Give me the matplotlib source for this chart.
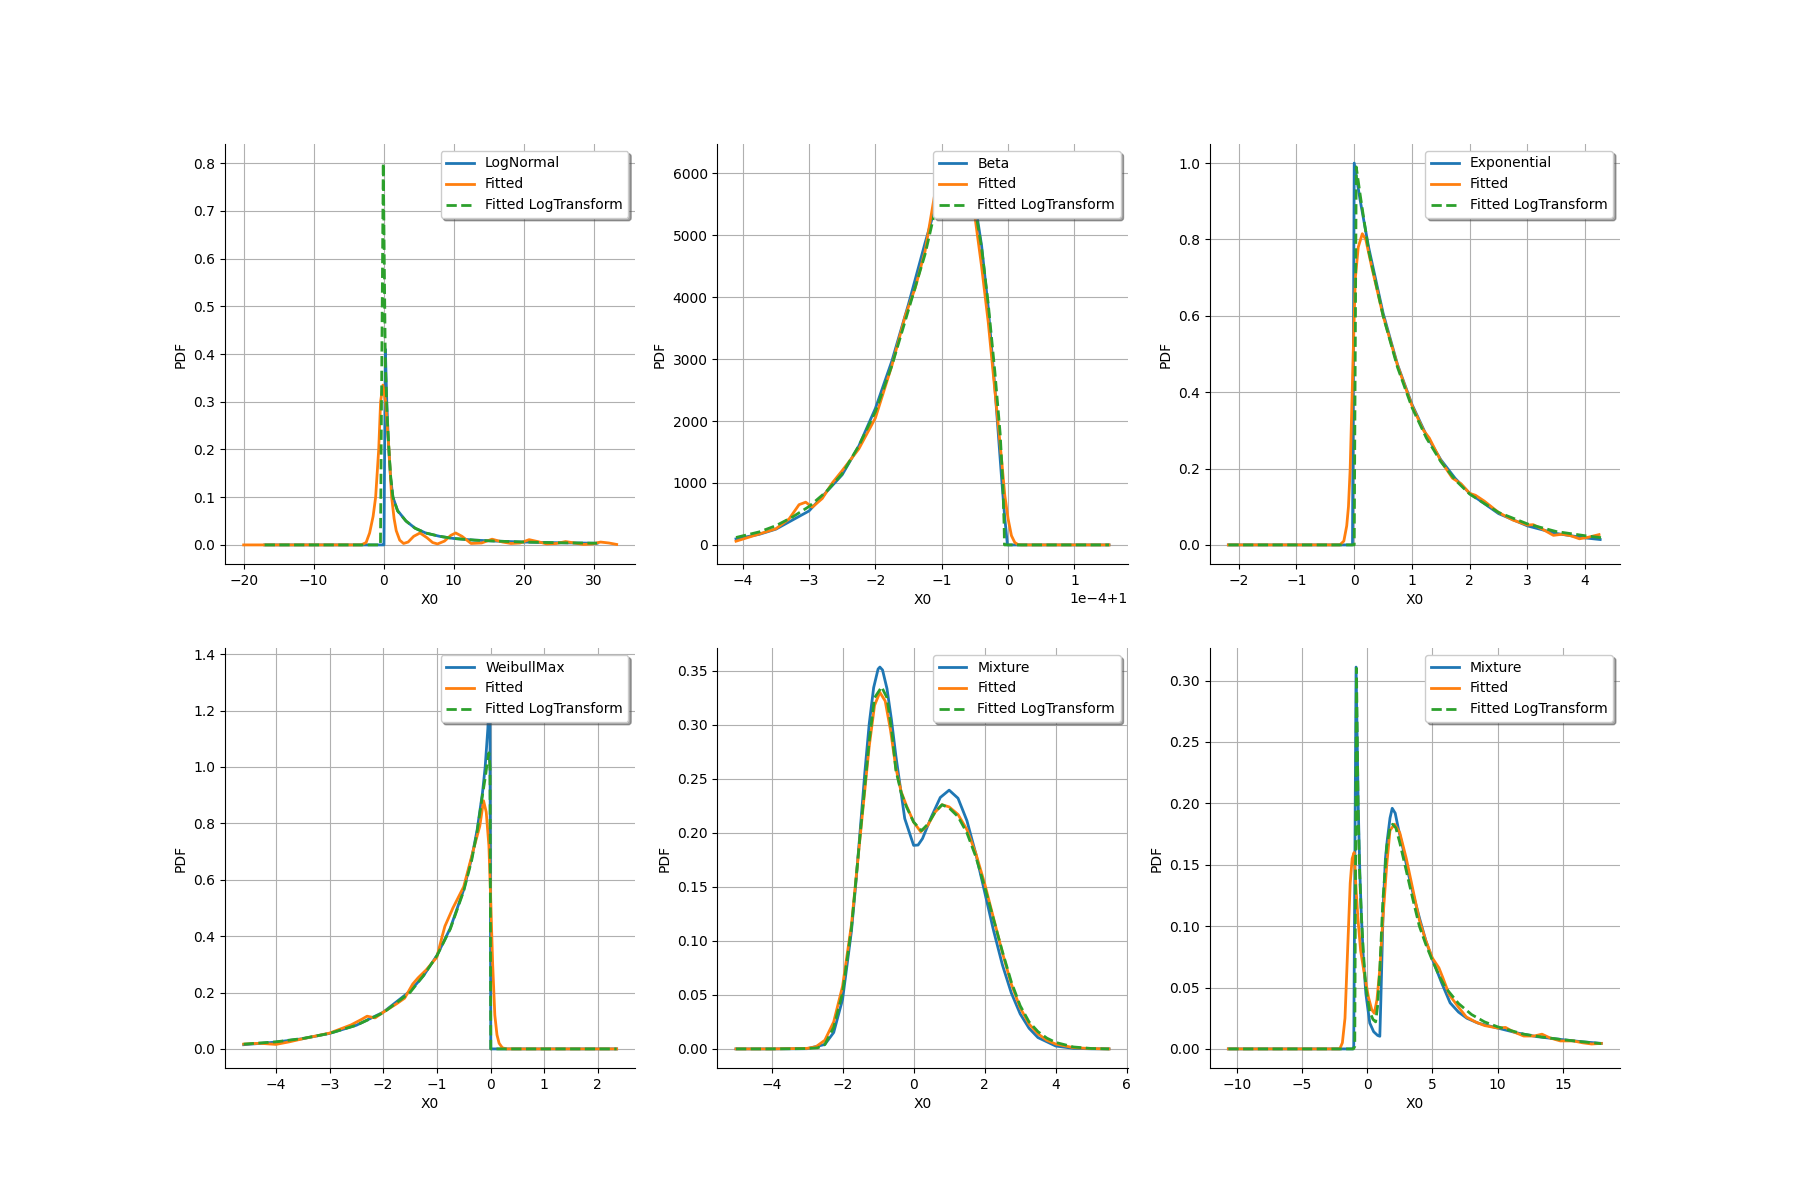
import matplotlib
matplotlib.use("Agg")
import matplotlib.pyplot as plt
import numpy as np

labels = ["Fitted", "Fitted LogTransform"]

# LogNormal
ln_true_x = [-17, -0.05, 0.05, 0.25, 0.45, 0.7, 1.0, 1.33, 2.0, 3.2, 4.5, 6, 8, 10, 13, 16, 20, 25, 30.5]
ln_true_y = [0, 0, 0, 0.41, 0.30, 0.21, 0.14, 0.10, 0.072, 0.05, 0.035, 0.025, 0.018, 0.0135, 0.01, 0.008, 0.006, 0.0045, 0.0035]
ln_fit_x = [-20, -3.2, -2.5, -2.0, -1.5, -1.14, -0.7, -0.43, -0.1, 0.28, 0.76, 1.15, 1.5, 1.8, 2.3, 2.85, 3.5, 4.3, 5.2, 6.2,
            7.0, 7.7, 8.7, 9.6, 10.3, 11.2, 12.5, 14, 15.5, 17, 18.2, 19.5, 20.8, 22, 23.3, 24.7, 26, 27.3, 28.5, 29.8, 31, 32.2, 33.3]
ln_fit_y = [0, 0, 0.005, 0.025, 0.06, 0.10, 0.20, 0.30, 0.335, 0.30, 0.20, 0.10, 0.055, 0.03, 0.01, 0.003, 0.006, 0.018, 0.025, 0.015,
            0.005, 0.002, 0.008, 0.02, 0.025, 0.018, 0.003, 0.004, 0.012, 0.006, 0.003, 0.004, 0.011, 0.007, 0.002, 0.003, 0.007, 0.004, 0.001, 0.002, 0.006, 0.004, 0.001]
ln_log_x = [-17, -0.45, -0.05, 0.25, 0.5, 0.8, 1.0, 1.33, 2, 3.2, 4.5, 6, 8, 10, 13, 16, 20, 25, 30.5]
ln_log_y = [0, 0, 0.80, 0.38, 0.27, 0.19, 0.145, 0.10, 0.071, 0.05, 0.035, 0.025, 0.018, 0.0135, 0.010, 0.008, 0.006, 0.0045, 0.0035]

# Beta (x in units of 1e-4 around 1)
beta_true_u = [-4.1, -3.75, -3.5, -3, -2.5, -2.25, -2, -1.75, -1.5, -1.25, -1.1, -1, -0.9, -0.75, -0.6, -0.5, -0.4, -0.3, -0.2, -0.1, -0.05, -0.01, 1.52]
beta_true_y = [97, 171, 254, 548, 1133, 1596, 2204, 2975, 3892, 4882, 5440, 5758, 6006, 6167, 5957, 5535, 4837, 3838, 2551, 1102, 430, 0, 0]
beta_fit_u = [-4.1, -3.8, -3.5, -3.3, -3.15, -3.05, -2.95, -2.8, -2.65, -2.5, -2.25, -2.0, -1.75, -1.55, -1.4, -1.25, -1.1, -0.95, -0.8, -0.65,
              -0.5, -0.4, -0.3, -0.2, -0.1, -0.05, 0.0, 0.05, 0.1, 0.15, 0.2, 1.52]
beta_fit_y = [60, 160, 260, 420, 650, 690, 610, 750, 1000, 1200, 1550, 2050, 2900, 3700, 4150, 4750, 5700, 6100, 6150, 5900,
              5300, 4500, 3600, 2500, 1400, 800, 420, 150, 40, 5, 0, 0]
beta_log_u = [-4.1, -3.75, -3.5, -3.25, -3.0, -2.75, -2.5, -2.25, -2.0, -1.75, -1.5, -1.25, -1.1, -0.95, -0.8, -0.65, -0.5, -0.4, -0.3, -0.2, -0.12, -0.08, -0.06, -0.055, 1.52]
beta_log_y = [120, 210, 310, 450, 620, 850, 1150, 1600, 2150, 2900, 3800, 4700, 5400, 5950, 6100, 5950, 5450, 4800, 3900, 2800, 1800, 1000, 300, 0, 0]

# Exponential
exp_true_x = [-2.18, -0.03, 0.0, 0.1, 0.25, 0.5, 0.75, 1.0, 1.25, 1.5, 1.75, 2.0, 2.5, 3.0, 3.5, 4.0, 4.26]
exp_true_y = [0, 0, 1.0, 0.905, 0.779, 0.607, 0.472, 0.368, 0.287, 0.223, 0.174, 0.135, 0.082, 0.0498, 0.030, 0.0183, 0.0141]
exp_fit_x = [-2.18, -0.25, -0.18, -0.13, -0.1, -0.07, -0.035, 0.0, 0.02, 0.07, 0.14, 0.2, 0.3, 0.5, 0.75, 1.0, 1.2, 1.3, 1.5, 1.7,
             1.85, 2.0, 2.1, 2.25, 2.5, 2.75, 3.0, 3.1, 3.25, 3.45, 3.6, 3.75, 3.9, 4.05, 4.24]
exp_fit_y = [0, 0, 0.01, 0.05, 0.1, 0.2, 0.4, 0.6, 0.7, 0.78, 0.815, 0.80, 0.73, 0.60, 0.47, 0.365, 0.30, 0.28, 0.22, 0.175,
             0.16, 0.135, 0.13, 0.115, 0.085, 0.065, 0.052, 0.053, 0.042, 0.025, 0.028, 0.024, 0.016, 0.02, 0.027]
exp_log_x = [-2.18, 0.0, 0.035, 0.1, 0.25, 0.5, 0.75, 1.0, 1.25, 1.5, 1.75, 2.0, 2.5, 3.0, 3.5, 4.0, 4.28]
exp_log_y = [0, 0, 0.99, 0.92, 0.77, 0.6, 0.465, 0.36, 0.28, 0.218, 0.17, 0.133, 0.085, 0.055, 0.035, 0.024, 0.019]

# WeibullMax
wm_true_x = [-4.6, -4.0, -3.5, -3.0, -2.5, -2.0, -1.5, -1.25, -1.0, -0.75, -0.5, -0.35, -0.25, -0.15, -0.1, -0.05, -0.03, -0.013, 0.005, 2.35]
wm_true_y = [0.0149, 0.0241, 0.0362, 0.0549, 0.0839, 0.130, 0.2047, 0.2592, 0.331, 0.428, 0.5645, 0.6777, 0.7758, 0.9077, 0.999, 1.135, 1.2245, 1.354, 0.0, 0.0]
wm_fit_x = [-4.6, -4.3, -4.0, -3.75, -3.5, -3.0, -2.6, -2.4, -2.3, -2.15, -2.0, -1.75, -1.6, -1.45, -1.35, -1.2, -1.0, -0.9, -0.85, -0.7,
            -0.5, -0.3, -0.2, -0.13, -0.08, -0.03, 0.0, 0.04, 0.08, 0.12, 0.16, 0.22, 0.3, 2.35]
wm_fit_y = [0.017, 0.02, 0.016, 0.025, 0.036, 0.056, 0.085, 0.105, 0.116, 0.11, 0.13, 0.16, 0.18, 0.23, 0.252, 0.28, 0.325, 0.4, 0.435, 0.5,
            0.575, 0.72, 0.79, 0.88, 0.84, 0.72, 0.55, 0.3, 0.12, 0.05, 0.02, 0.004, 0.0, 0.0]
wm_log_x = [-4.6, -4.0, -3.5, -3.0, -2.5, -2.0, -1.5, -1.25, -1.0, -0.75, -0.5, -0.35, -0.25, -0.15, -0.1, -0.05, -0.03, -0.01, 0.005, 2.35]
wm_log_y = [0.017, 0.025, 0.037, 0.055, 0.084, 0.128, 0.2, 0.26, 0.33, 0.425, 0.56, 0.67, 0.77, 0.9, 0.96, 1.03, 1.05, 1.0, 0.0, 0.0]

# Mixture of normals
mn_true_x = [-5, -4, -3, -2.5, -2.25, -2, -1.75, -1.625, -1.5, -1.375, -1.25, -1.125, -1, -0.95, -0.875, -0.75, -0.625, -0.5, -0.25, 0,
             0.125, 0.25, 0.5, 0.75, 1, 1.25, 1.5, 1.75, 2, 2.25, 2.5, 2.75, 3, 3.25, 3.5, 4, 4.5, 5, 5.5]
mn_true_y = [0, 0, 0.0002, 0.0041, 0.0152, 0.0459, 0.1091, 0.1538, 0.2041, 0.2552, 0.3008, 0.3344, 0.3516, 0.3534, 0.3507, 0.3335, 0.3049, 0.2713, 0.2132, 0.1884,
             0.1887, 0.1947, 0.2148, 0.2327, 0.2395, 0.2320, 0.2113, 0.1807, 0.1452, 0.1096, 0.0777, 0.0518, 0.0324, 0.0191, 0.0105, 0.0027, 0.0005, 0.0001, 0]
mn_fit_x = [-5, -4, -3, -2.75, -2.5, -2.25, -2, -1.75, -1.5, -1.25, -1.1, -0.95, -0.8, -0.65, -0.5, -0.35, -0.2, 0, 0.2, 0.4,
            0.6, 0.8, 1.0, 1.25, 1.5, 1.75, 2, 2.25, 2.5, 2.75, 3, 3.25, 3.5, 3.75, 4, 4.5, 5, 5.5]
mn_fit_y = [0, 0, 0.0005, 0.002, 0.008, 0.025, 0.058, 0.115, 0.198, 0.28, 0.318, 0.330, 0.322, 0.295, 0.26, 0.238, 0.225, 0.21, 0.201, 0.207,
            0.219, 0.226, 0.224, 0.217, 0.203, 0.181, 0.153, 0.121, 0.089, 0.06, 0.038, 0.023, 0.014, 0.008, 0.0045, 0.0012, 0.0003, 0]
mn_log_x = [-5, -4, -3, -2.7, -2.5, -2.25, -2, -1.75, -1.5, -1.25, -1.1, -0.9, -0.75, -0.6, -0.5, -0.35, -0.2, 0, 0.22, 0.4,
            0.6, 0.8, 1.0, 1.25, 1.5, 1.75, 2, 2.25, 2.5, 2.75, 3, 3.25, 3.5, 3.75, 4, 4.5, 5, 5.5]
mn_log_y = [0, 0, 0.0003, 0.001, 0.004, 0.02, 0.052, 0.112, 0.2, 0.285, 0.325, 0.335, 0.325, 0.29, 0.258, 0.237, 0.224, 0.21, 0.202, 0.208,
            0.219, 0.226, 0.223, 0.215, 0.2, 0.178, 0.15, 0.12, 0.09, 0.062, 0.04, 0.025, 0.016, 0.01, 0.006, 0.0018, 0.0004, 0]

# Mixture of lognormals
ml_true_x = [-10.64, -1.1, -1.03, -0.85, -0.69, -0.56, -0.45, -0.3, -0.1, 0.2, 0.5, 0.8, 0.97, 1.05, 1.23, 1.4, 1.54, 1.75, 1.92, 2.15,
             2.38, 2.75, 3.15, 3.6, 4.05, 4.5, 5.0, 5.7, 6.36, 7.0, 7.64, 8.5, 10, 11.5, 13, 15, 16.5, 17.95]
ml_true_y = [0, 0, 0.002, 0.311, 0.2, 0.143, 0.11, 0.075, 0.045, 0.021, 0.014, 0.011, 0.0103, 0.04, 0.116, 0.155, 0.17, 0.188, 0.196, 0.192,
             0.18, 0.163, 0.143, 0.123, 0.105, 0.088, 0.073, 0.054, 0.0375, 0.03, 0.025, 0.021, 0.017, 0.013, 0.010, 0.0075, 0.0058, 0.0045]
ml_fit_x = [-10.64, -2.1, -1.9, -1.7, -1.5, -1.3, -1.15, -1.0, -0.85, -0.7, -0.5, -0.2, 0.1, 0.35, 0.55, 0.75, 0.97, 1.2, 1.5, 1.75,
            2.1, 2.5, 3.0, 3.5, 4.0, 4.5, 5.0, 5.5, 5.8, 6.3, 7.0, 7.6, 8.3, 9.0, 10, 10.6, 11.2, 12, 12.8, 13.4,
            14, 14.8, 15.8, 16.5, 17.2, 17.95]
ml_fit_y = [0, 0, 0.005, 0.025, 0.08, 0.135, 0.155, 0.16, 0.13, 0.105, 0.08, 0.06, 0.042, 0.032, 0.029, 0.04, 0.065, 0.105, 0.15, 0.178,
            0.183, 0.176, 0.155, 0.13, 0.105, 0.088, 0.074, 0.066, 0.058, 0.044, 0.034, 0.026, 0.022, 0.019, 0.017, 0.0175, 0.014, 0.0105, 0.0105, 0.012,
            0.009, 0.0065, 0.0065, 0.005, 0.004, 0.0045]
ml_log_x = [-10.64, -1.05, -0.95, -0.82, -0.7, -0.6, -0.45, -0.3, -0.1, 0.2, 0.45, 0.65, 0.8, 0.97, 1.2, 1.5, 1.75, 1.95, 2.2, 2.5,
            3.0, 3.5, 4.0, 4.5, 5.0, 5.5, 6.0, 7.0, 8.0, 9.0, 10, 11, 12, 13.5, 15, 16.5, 17.95]
ml_log_y = [0, 0, 0.002, 0.31, 0.2, 0.15, 0.11, 0.08, 0.05, 0.03, 0.024, 0.022, 0.035, 0.065, 0.12, 0.165, 0.18, 0.183, 0.18, 0.168,
            0.145, 0.122, 0.1, 0.085, 0.072, 0.06, 0.05, 0.037, 0.028, 0.022, 0.018, 0.015, 0.012, 0.0095, 0.0075, 0.0058, 0.0043]

beta_true_x = 1 + np.array(beta_true_u) * 1e-4
beta_fit_x = 1 + np.array(beta_fit_u) * 1e-4
beta_log_x = 1 + np.array(beta_log_u) * 1e-4

panels = [
    ("LogNormal", ln_true_x, ln_true_y, ln_fit_x, ln_fit_y, ln_log_x, ln_log_y),
    ("Beta", beta_true_x, beta_true_y, beta_fit_x, beta_fit_y, beta_log_x, beta_log_y),
    ("Exponential", exp_true_x, exp_true_y, exp_fit_x, exp_fit_y, exp_log_x, exp_log_y),
    ("WeibullMax", wm_true_x, wm_true_y, wm_fit_x, wm_fit_y, wm_log_x, wm_log_y),
    ("Mixture", mn_true_x, mn_true_y, mn_fit_x, mn_fit_y, mn_log_x, mn_log_y),
    ("Mixture", ml_true_x, ml_true_y, ml_fit_x, ml_fit_y, ml_log_x, ml_log_y),
]

fig, axes = plt.subplots(2, 3, figsize=(18, 12), dpi=100)

for ax, (name, tx, ty, fx, fy, lx, ly) in zip(axes.flat, panels):
    ax.plot(tx, ty, color="tab:blue", lw=2, label=name)
    ax.plot(fx, fy, color="tab:orange", lw=2, label=labels[0])
    ax.plot(lx, ly, color="tab:green", lw=2, ls="--", label=labels[1])
    ax.set_xlabel("X0")
    ax.set_ylabel("PDF")
    ax.grid(True)
    ax.spines["top"].set_visible(False)
    ax.spines["right"].set_visible(False)
    ax.legend(loc="upper right", shadow=True)

# beta support sits just below 1: scientific offset on x
axes[0, 1].ticklabel_format(axis="x", style="sci", scilimits=(-3, 3))

fig.savefig("out.png")
